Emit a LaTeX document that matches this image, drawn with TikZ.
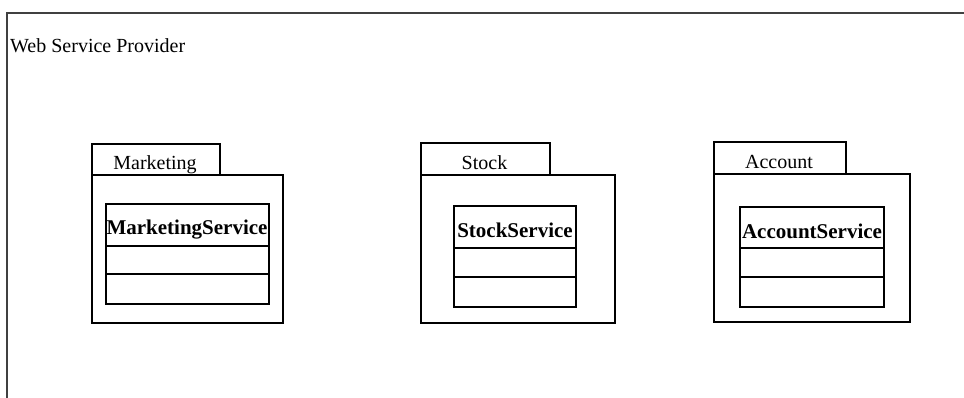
\documentclass[tikz,border=0pt]{standalone}
\usepackage{fontspec}
\setmainfont{Liberation Serif}
\begin{document}
\begin{tikzpicture}[x=1pt,y=-1pt,
  box/.style={draw, line width=1.7pt, inner sep=0pt, anchor=north west},
  lbl/.style={font=\fontsize{20}{24}\selectfont, inner sep=0pt, anchor=base},
  cname/.style={font=\fontsize{21}{25}\bfseries, inner sep=0pt, anchor=base},
  divider/.style={line width=1.7pt}]
\useasboundingbox (0,0) rectangle (964,397);
\clip (0,0) rectangle (964,397);
% outer frame
\node[box, draw=black!75, line width=2pt, minimum width=1000pt, minimum height=420pt] (frame) at (6,12) {};
\node[font=\fontsize{20}{24}\selectfont, inner sep=0pt, anchor=base west] (title) at (10,52) {Web Service Provider};
% Marketing package
\node[box, minimum width=128pt, minimum height=31pt] (mtab) at (91,143) {};
\node[box, minimum width=191pt, minimum height=148pt] (mbody) at (91,174) {};
\node[lbl] (mlabel) at (155,169) {Marketing};
\node[box, minimum width=163pt, minimum height=100pt] (mcls) at (105,203) {};
\draw[divider] ([yshift=-43pt]mcls.north west) -- ([yshift=-43pt]mcls.north east);
\draw[divider] ([yshift=-71pt]mcls.north west) -- ([yshift=-71pt]mcls.north east);
\node[cname] (mname) at (187,234) {MarketingService};
% Stock package
\node[box, minimum width=129pt, minimum height=32pt] (stab) at (420,142) {};
\node[box, minimum width=194pt, minimum height=148pt] (sbody) at (420,174) {};
\node[lbl] (slabel) at (484.5,169) {Stock};
\node[box, minimum width=122pt, minimum height=101pt] (scls) at (453,205) {};
\draw[divider] ([yshift=-43pt]scls.north west) -- ([yshift=-43pt]scls.north east);
\draw[divider] ([yshift=-72pt]scls.north west) -- ([yshift=-72pt]scls.north east);
\node[cname] (sname) at (515,237) {StockService};
% Account package
\node[box, minimum width=132pt, minimum height=32pt] (atab) at (713,141) {};
\node[box, minimum width=196pt, minimum height=148pt] (abody) at (713,173) {};
\node[lbl] (alabel) at (779,168) {Account};
\node[box, minimum width=144pt, minimum height=100pt] (acls) at (739,206) {};
\draw[divider] ([yshift=-42pt]acls.north west) -- ([yshift=-42pt]acls.north east);
\draw[divider] ([yshift=-71pt]acls.north west) -- ([yshift=-71pt]acls.north east);
\node[cname] (aname) at (812,238) {AccountService};
\end{tikzpicture}
\end{document}
